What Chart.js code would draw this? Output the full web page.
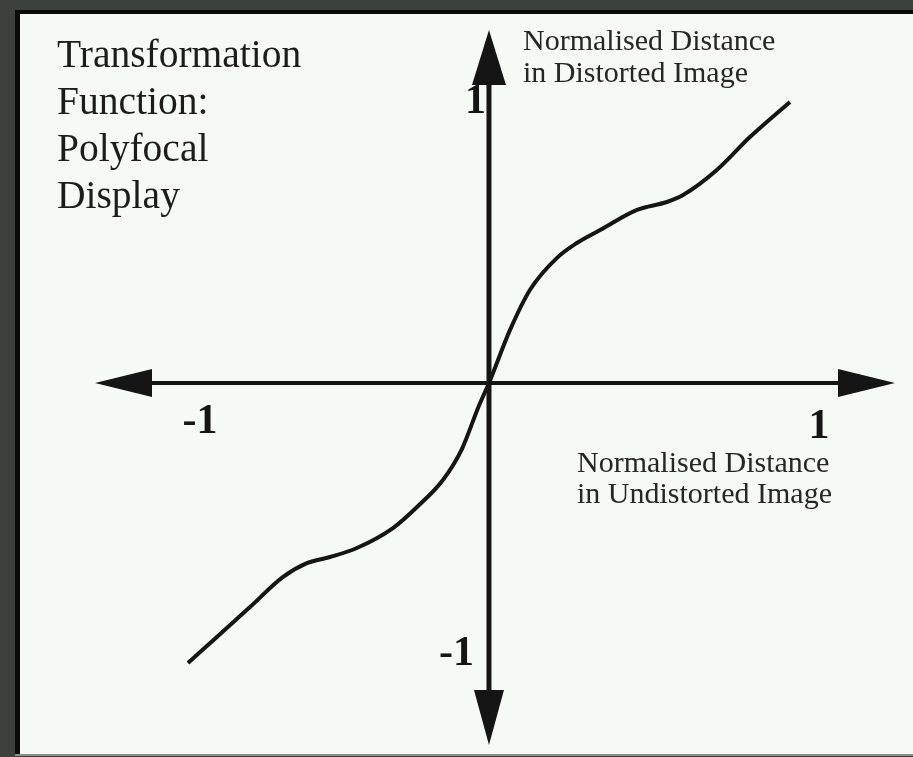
<!DOCTYPE html>
<html>
<head>
<meta charset="utf-8">
<script src="https://cdn.jsdelivr.net/npm/chart.js@4.4.1/dist/chart.umd.min.js"></script>
<style>
    html, body { margin: 0; padding: 0; background: #3c413e; overflow: hidden; }
    #chart { display: block; }
</style>
</head>
<body>
<canvas id="chart" width="913" height="757"></canvas>
<script>
// Curve (normalised distances)
const curveX = [-1.0, -0.904, -0.794, -0.684, -0.605, -0.528, -0.439, -0.319, -0.239, -0.153, -0.09, -0.035, 0, 0.07, 0.136, 0.226, 0.292, 0.369, 0.492, 0.591, 0.645, 0.757, 0.867, 1.0];
const curveY = [-0.996, -0.904, -0.797, -0.69, -0.641, -0.619, -0.587, -0.516, -0.441, -0.345, -0.235, -0.085, 0, 0.189, 0.331, 0.445, 0.498, 0.544, 0.616, 0.644, 0.669, 0.758, 0.875, 1.0];

const xTickValues = [-1, 1];
const xTickLabels = ['-1', '1'];
const yTickValues = [1, -1];
const yTickLabels = ['1', '-1'];

const titleLines = ['Transformation', 'Function:', 'Polyfocal', 'Display'];
const yAxisTitle = ['Normalised Distance', 'in Distorted Image'];
const xAxisTitle = ['Normalised Distance', 'in Undistorted Image'];

const points = curveX.map((x, i) => ({ x: x, y: curveY[i] }));

const INK = '#151515';

function arrow(ctx, tipX, tipY, dx, dy, len, half) {
    // dx,dy = unit direction the arrow points to
    const bx = tipX - dx * len, by = tipY - dy * len;
    ctx.beginPath();
    ctx.moveTo(tipX, tipY);
    ctx.lineTo(bx - dy * half, by + dx * half);
    ctx.lineTo(bx + dy * half, by - dx * half);
    ctx.closePath();
    ctx.fill();
}

const panelPlugin = {
    id: 'panel',
    beforeDraw(chart) {
        const ctx = chart.ctx;
        ctx.save();
        ctx.fillStyle = '#3c413e';
        ctx.fillRect(0, 0, chart.width, chart.height);
        ctx.fillStyle = '#f5faf7';
        ctx.fillRect(15, 10, chart.width - 15, 745);
        ctx.fillStyle = '#0a0a0a';
        ctx.fillRect(15, 10, chart.width - 15, 4);
        ctx.fillRect(15, 10, 5, 745);
        ctx.fillStyle = '#8a8f8c';
        ctx.fillRect(15, 754, chart.width - 15, 2);
        ctx.restore();
    }
};

const axesPlugin = {
    id: 'crossAxes',
    beforeDatasetsDraw(chart) {
        const ctx = chart.ctx;
        const area = chart.chartArea;
        const sx = chart.scales.x, sy = chart.scales.y;
        const ox = sx.getPixelForValue(0), oy = sy.getPixelForValue(0);
        ctx.save();
        ctx.strokeStyle = INK;
        ctx.fillStyle = INK;
        ctx.lineWidth = 4;
        ctx.beginPath();
        ctx.moveTo(area.left + 20, oy);
        ctx.lineTo(area.right - 20, oy);
        ctx.stroke();
        ctx.lineWidth = 5;
        ctx.beginPath();
        ctx.moveTo(ox, area.top + 20);
        ctx.lineTo(ox, area.bottom - 20);
        ctx.stroke();
        arrow(ctx, area.left, oy, -1, 0, 57, 14);
        arrow(ctx, area.right, oy, 1, 0, 57, 14);
        arrow(ctx, ox, area.top, 0, -1, 55, 17);
        arrow(ctx, ox, area.bottom, 0, 1, 55, 15);
        ctx.restore();
    },
    afterDraw(chart) {
        const ctx = chart.ctx;
        const sx = chart.scales.x, sy = chart.scales.y;
        const ox = sx.getPixelForValue(0), oy = sy.getPixelForValue(0);
        ctx.save();
        ctx.fillStyle = INK;
        ctx.textBaseline = 'alphabetic';

        // tick labels
        ctx.font = 'bold 42px "Liberation Serif", "DejaVu Serif", serif';
        ctx.textAlign = 'center';
        const xOff = [[12, 50], [29, 55]];
        xTickValues.forEach((v, i) => {
            ctx.fillText(xTickLabels[i], sx.getPixelForValue(v) + xOff[i][0], oy + xOff[i][1]);
        });
        ctx.textAlign = 'right';
        const yOff = [[-3, 11], [-15, 1]];
        yTickValues.forEach((v, i) => {
            ctx.fillText(yTickLabels[i], ox + yOff[i][0], sy.getPixelForValue(v) + yOff[i][1]);
        });

        // title block
        ctx.textAlign = 'left';
        ctx.fillStyle = '#1c1c1c';
        ctx.font = '39.5px "Liberation Serif", "DejaVu Serif", serif';
        titleLines.forEach((t, i) => ctx.fillText(t, 57, 67 + i * 47));

        // axis titles
        ctx.fillStyle = '#262626';
        ctx.font = '30px "Liberation Serif", "DejaVu Serif", serif';
        yAxisTitle.forEach((t, i) => ctx.fillText(t, 523, 50 + i * 32));
        xAxisTitle.forEach((t, i) => ctx.fillText(t, 577, 472 + i * 31));
        ctx.restore();
    }
};

new Chart(document.getElementById('chart'), {
    type: 'scatter',
    data: {
        datasets: [{
            data: points,
            showLine: true,
            borderColor: INK,
            borderWidth: 4,
            pointRadius: 0,
            cubicInterpolationMode: 'monotone',
            fill: false
        }]
    },
    options: {
        responsive: false,
        animation: false,
        layout: { padding: { left: 95, right: 18, top: 30, bottom: 12 } },
        plugins: {
            legend: { display: false },
            tooltip: { enabled: false }
        },
        scales: {
            x: { type: 'linear', display: false, min: -1.309, max: 1.349 },
            y: { type: 'linear', display: false, min: -1.288, max: 1.256 }
        }
    },
    plugins: [panelPlugin, axesPlugin]
});
</script>
</body>
</html>
